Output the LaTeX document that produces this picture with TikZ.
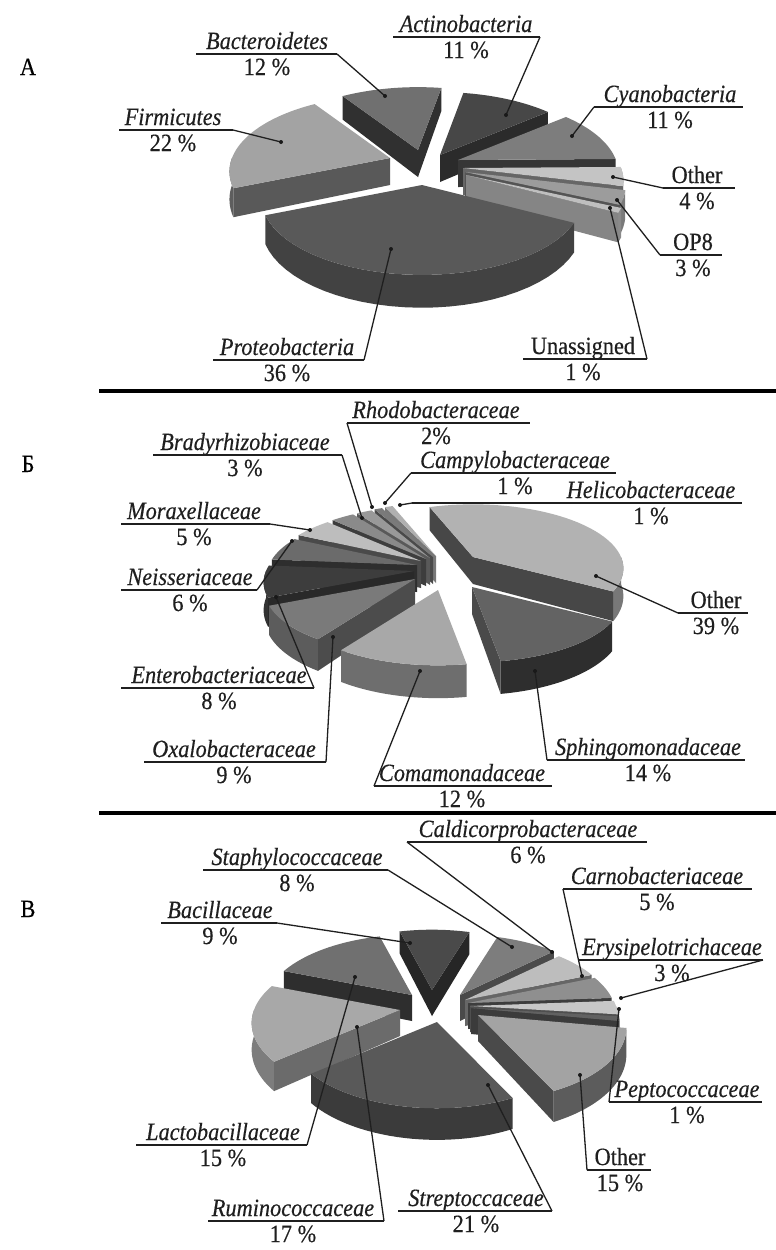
\documentclass[tikz,border=0pt]{standalone}
\usepackage{fontspec}
\setmainfont{Liberation Serif}
\newfontfamily\labfont{Liberation Serif}[FakeStretch=0.9,FakeBold=0.4]
% one slice of a 3D pie with a simple perspective
\newcommand\pieslice[7]{%
  \def\pX{#1}\def\pY{#2}\def\pA{#3}\def\pB{#4}%
  \foreach \kk in {-360,0,360}{%
    \pgfmathsetmacro\pLo{max(\pA,\kk)}%
    \pgfmathsetmacro\pHi{min(\pB,\kk+180)}%
    \pgfmathtruncatemacro\pOk{(\pHi>\pLo+0.05)}%
    \ifnum\pOk=1
      \fill[#6] plot[domain=\pLo:\pHi,samples=30,variable=\t]
        ({\pX+\PRx*cos(\t)/(1-\Pp*sin(\t))},{\pY+\PRy*sin(\t)/(1-\Pp*sin(\t))})
        -- plot[domain=\pLo:\pHi,samples=30,variable=\t]
        ({\pX+\PRx*cos(\pLo+\pHi-\t)/(1-\Pp*sin(\pLo+\pHi-\t))},{\pY+(\PRy*sin(\pLo+\pHi-\t)+\PH)/(1-\Pp*sin(\pLo+\pHi-\t))})
        -- cycle;
    \fi
  }%
  \pgfmathtruncatemacro\pOk{(cos(\pA)<0)}%
  \ifnum\pOk=1
    \fill[#7] (\pX,\pY) -- ({\pX+\PRx*cos(\pA)/(1-\Pp*sin(\pA))},{\pY+\PRy*sin(\pA)/(1-\Pp*sin(\pA))})
      -- ({\pX+\PRx*cos(\pA)/(1-\Pp*sin(\pA))},{\pY+(\PRy*sin(\pA)+\PH)/(1-\Pp*sin(\pA))})
      -- (\pX,\pY+\PH) -- cycle;
  \fi
  \pgfmathtruncatemacro\pOk{(cos(\pB)>0)}%
  \ifnum\pOk=1
    \fill[#7] (\pX,\pY) -- ({\pX+\PRx*cos(\pB)/(1-\Pp*sin(\pB))},{\pY+\PRy*sin(\pB)/(1-\Pp*sin(\pB))})
      -- ({\pX+\PRx*cos(\pB)/(1-\Pp*sin(\pB))},{\pY+(\PRy*sin(\pB)+\PH)/(1-\Pp*sin(\pB))})
      -- (\pX,\pY+\PH) -- cycle;
  \fi
  \fill[#5] (\pX,\pY) -- plot[domain=\pA:\pB,samples=40,variable=\t]
    ({\pX+\PRx*cos(\t)/(1-\Pp*sin(\t))},{\pY+\PRy*sin(\t)/(1-\Pp*sin(\t))}) -- cycle;
}
% label: id, x, yline, xleft, xright, name, percent, leader start x, dot
\newcommand\plabel[9]{%
  \node[lab] (#1n) at (#2,#3-5) {#6};
  \node[pct] (#1p) at (#2,#3+21) {#7};
  \coordinate (#1l) at (#4,#3);
  \coordinate (#1r) at (#5,#3);
  \coordinate (#1s) at (#8,#3);
  \coordinate (#1d) at (#9);
  \draw[uline] (#1l) -- (#1r);
  \draw[leader] (#1s) -- (#1d);
  \fill[black!90] (#1d) circle[radius=2];
}
\tikzset{
  lab/.style={font=\labfont\fontsize{12.4}{14}\selectfont\itshape, anchor=base, inner sep=0pt, text=black!88},
  pct/.style={font=\labfont\fontsize{12.4}{14}\selectfont, anchor=base, inner sep=0pt, text=black!88},
  panel/.style={font=\labfont\fontsize{12.4}{14}\selectfont, anchor=base, inner sep=0pt},
  uline/.style={line width=1pt, black!88},
  leader/.style={line width=0.65pt, black!88},
  sep/.style={line width=1.7pt, black}
}
\begin{document}
\begin{tikzpicture}[x=0.5pt,y=-0.5pt]
\fill[white] (0,0) rectangle (776,1250);
\useasboundingbox (0,0) rectangle (776,1250);

% ---------------- panel A ----------------
\node[panel] (pA) at (28,75) {А};
\def\PRx{158}\def\PRy{74}\def\Pp{0.177}\def\PH{27}
\pieslice{418}{150}{236.8}{280}{black!56}{black!67}{black!81}
\pieslice{440}{155}{280}{319.6}{black!72}{black!77}{black!83}
\pieslice{458}{160}{319.6}{359.2}{black!51}{black!65}{black!79}
\pieslice{390}{158}{157.6}{236.8}{black!36}{black!63}{black!65}
\pieslice{463}{168}{359.2}{373.6}{black!23}{black!40}{black!60}
\pieslice{465}{172}{373.6}{384.4}{black!39}{black!52}{black!67}
\pieslice{466}{175}{384.4}{388}{black!25}{black!46}{black!48}
\pieslice{422}{185}{388}{517.6}{black!65}{black!74}{black!77}

\plabel{aBac}{267}{54}{196}{337}{Bacteroidetes}{12 \%}{337}{385,96}
\plabel{aAct}{466}{37}{393}{540}{Actinobacteria}{11 \%}{540}{506,115}
\plabel{aCya}{670}{107}{594}{743}{Cyanobacteria}{11 \%}{594}{572,136}
\plabel{aFir}{173}{130}{119}{233}{Firmicutes}{22 \%}{233}{281,142}
\plabel{aOth}{697}{188}{663}{735}{\upshape Other}{4 \%}{663}{613,177}
\plabel{aOP}{693}{255}{660}{722}{\upshape OP8}{3 \%}{660}{617,200}
\plabel{aUna}{583}{359}{523}{647}{\upshape Unassigned}{1 \%}{647}{610,208}
\plabel{aPro}{287}{360}{213}{364}{Proteobacteria}{36 \%}{364}{391,249}

\coordinate (s1a) at (99,391);
\coordinate (s1b) at (776,391);
\draw[sep] (s1a) -- (s1b);

% ---------------- panel B (Б) ----------------
\node[panel] (pB) at (28,472) {Б};
\def\PRx{148}\def\PRy{62}\def\Pp{0.177}\def\PH{27}
\pieslice{436}{556}{246.4}{250}{black!31}{black!47}{black!53}
\pieslice{433}{557}{242.8}{246.4}{black!52}{black!67}{black!71}
\pieslice{430}{558}{235.6}{242.8}{black!40}{black!58}{black!65}
\pieslice{426}{559}{224.8}{235.6}{black!46}{black!60}{black!76}
\pieslice{473}{557}{250}{390.4}{black!30}{black!53}{black!72}
\pieslice{421}{561}{206.8}{224.8}{black!26}{black!45}{black!71}
\pieslice{417}{565}{185.2}{206.8}{black!58}{black!70}{black!82}
\pieslice{414}{571}{156.4}{185.2}{black!76}{black!80}{black!84}
\pieslice{415}{579}{124}{156.4}{black!52}{black!64}{black!70}
\pieslice{472}{587}{30.4}{80.8}{black!61}{black!82}{black!71}
\pieslice{438}{590}{80.8}{124}{black!34}{black!57}{black!46}

\plabel{bRho}{436}{423}{347}{530}{Rhodobacteraceae}{2\%}{347}{372,507}
\plabel{bBra}{245}{455}{153}{342}{Bradyrhizobiaceae}{3 \%}{342}{362,518}
\plabel{bCam}{515}{473}{411}{616}{Campylobacteraceae}{1 \%}{411}{385,503}
\plabel{bHel}{651}{503}{412}{742}{Helicobacteraceae}{1 \%}{412}{400,505}
\plabel{bMor}{194}{524}{121}{270}{Moraxellaceae}{5 \%}{270}{310,530}
\plabel{bNei}{190}{590}{121}{257}{Neisseriaceae}{6 \%}{257}{292,541}
\plabel{bOth}{716}{613}{678}{748}{\upshape Other}{39 \%}{678}{596,576}
\plabel{bEnt}{219}{688}{121}{314}{Enterobacteriaceae}{8 \%}{314}{276,597}
\plabel{bOxa}{234}{762}{144}{326}{Oxalobacteraceae}{9 \%}{326}{333,637}
\plabel{bCom}{462}{786}{374}{552}{Comamonadaceae}{12 \%}{374}{420,671}
\plabel{bSph}{648}{760}{547}{745}{Sphingomonadaceae}{14 \%}{547}{535,671}

\coordinate (s2a) at (99,813);
\coordinate (s2b) at (776,813);
\draw[sep] (s2a) -- (s2b);

% ---------------- panel C (В) ----------------
\node[panel] (pC) at (28,917) {В};
\def\PRx{146}\def\PRy{71}\def\Pp{0.177}\def\PH{26}
\pieslice{432}{990}{255}{287.4}{black!71}{black!80}{black!85}
\pieslice{460}{995}{287.4}{316.2}{black!51}{black!65}{black!71}
\pieslice{412}{995}{201}{255}{black!56}{black!69}{black!82}
\pieslice{465}{1000}{316.2}{337.8}{black!26}{black!44}{black!60}
\pieslice{468}{1003}{337.8}{355.8}{black!44}{black!60}{black!76}
\pieslice{470}{1006}{355.8}{366.6}{black!22}{black!40}{black!69}
\pieslice{471}{1008}{366.6}{370.2}{black!62}{black!71}{black!77}
\pieslice{400}{1010}{139.8}{201}{black!34}{black!51}{black!58}
\pieslice{478}{1015}{370.2}{424.2}{black!36}{black!64}{black!71}
\pieslice{437}{1022}{424.2}{499.8}{black!65}{black!77}{black!73}

\plabel{cCal}{528}{842}{407}{647}{Caldicorprobacteraceae}{6 \%}{407}{552,952}
\plabel{cSta}{297}{870}{203}{388}{Staphylococcaceae}{8 \%}{388}{512,947}
\plabel{cCar}{657}{889}{563}{752}{Carnobacteriaceae}{5 \%}{563}{582,976}
\plabel{cBac}{220}{923}{161}{277}{Bacillaceae}{9 \%}{277}{410,943}
\plabel{cEry}{672}{960}{578}{763}{Erysipelotrichaceae}{3 \%}{763}{621,998}
\plabel{cPep}{687}{1102}{609}{762}{Peptococcaceae}{1 \%}{609}{619,1009}
\plabel{cOth}{620}{1170}{587}{651}{\upshape Other}{15 \%}{587}{580,1075}
\plabel{cLac}{223}{1145}{136}{307}{Lactobacillaceae}{15 \%}{307}{355,977}
\plabel{cRum}{293}{1221}{208}{384}{Ruminococcaceae}{17 \%}{384}{357,1027}
\plabel{cStr}{476}{1211}{398}{552}{Streptoccaceae}{21 \%}{552}{488,1085}
\end{tikzpicture}
\end{document}
